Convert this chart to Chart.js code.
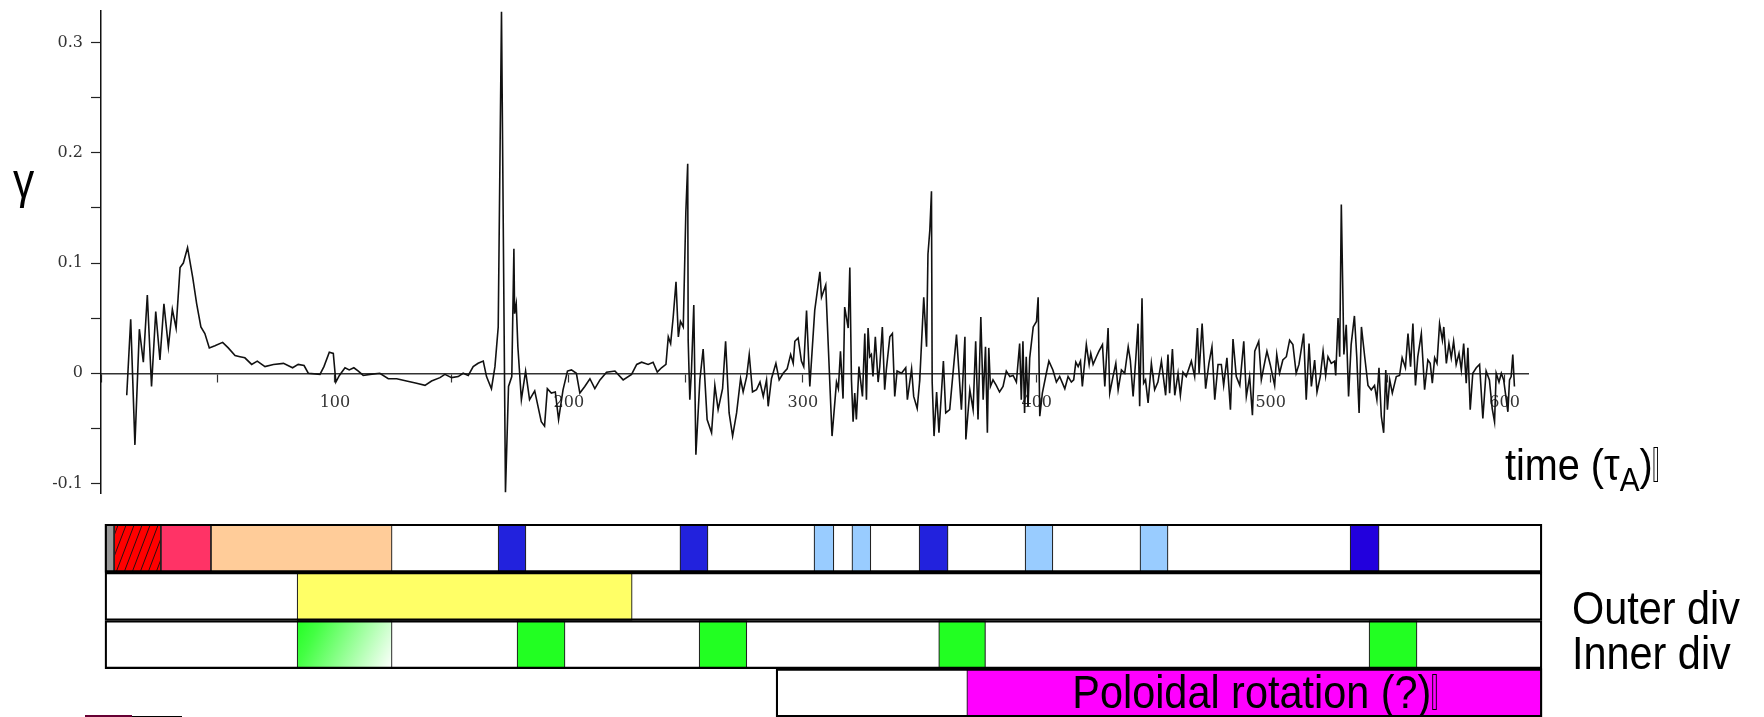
<!DOCTYPE html>
<html>
<head>
<meta charset="utf-8">
<script src="https://cdn.jsdelivr.net/npm/chart.js@4.4.0/dist/chart.umd.min.js"></script>
<style>
  html, body { margin: 0; padding: 0; background: #fff; }
  body { width: 1764px; height: 717px; position: relative; overflow: hidden; font-family: "Liberation Sans", Arial, sans-serif; }
  #grafica { position: absolute; left: 0; top: -7px; }
  #barras { position: absolute; left: 0; top: 520px; }
  .texto { position: absolute; color: #000; white-space: nowrap; line-height: 1; transform: scaleX(0.9); transform-origin: left top; }
  .caja { display: inline-block; width: 3px; height: 0.75em; border: 1px solid #000; vertical-align: -0.05em; margin-left: 1px; }
</style>
</head>
<body>
<canvas id="grafica" width="1764" height="518"></canvas>
<canvas id="barras" width="1764" height="197"></canvas>

<div class="texto" style="left:13px; top:156px; font-size:50px; transform:scaleX(0.85);">γ</div>
<div class="texto" style="left:1505px; top:443px; font-size:44px;">time (τ<sub style="font-size:33px; vertical-align:-11px;">A</sub>)<span class="caja"></span></div>
<div class="texto" style="left:1572px; top:585px; font-size:46px;">Outer div</div>
<div class="texto" style="left:1572px; top:630px; font-size:46px;">Inner div</div>
<div class="texto" style="left:967px; top:668px; width:575px; height:48px; line-height:48px; text-align:center; font-size:46px; transform-origin:center center;">Poloidal rotation (?)<span class="caja"></span></div>
<div style="position:absolute; left:85px; top:715px; width:47px; height:2px; background:#660033;"></div>
<div style="position:absolute; left:132px; top:716px; width:50px; height:1px; background:#000;"></div>

<script>
        var gammaTramo1 = [[11.0,-0.020],[12.7,0.049],[14.5,-0.065],[16.4,0.040],[18.1,0.010],[19.8,0.071],[21.6,-0.012],[23.4,0.056],[25.2,0.012],[26.9,0.063],[28.8,0.024],[30.5,0.058],[32.1,0.041],[33.8,0.096],[35.2,0.100],[37.0,0.114],[39.2,0.087],[40.9,0.063],[42.7,0.042],[44.4,0.036],[46.3,0.023],[48.7,0.025],[52.0,0.028],[54.4,0.023],[57.3,0.016],[59.4,0.015],[61.5,0.014],[64.4,0.008],[66.8,0.011],[70.1,0.006],[73.7,0.008],[78.0,0.009],[81.9,0.005],[84.3,0.008],[86.8,0.007],[88.6,0.000],[93.6,-0.001],[95.3,0.006],[97.6,0.019],[99.3,0.018],[100.4,-0.008],[101.9,-0.002]];
        var gammaTramo2 = [[104.3,0.005],[106.1,0.003],[108.1,0.005],[110.0,0.002],[112.1,-0.002],[115.0,-0.001],[119.2,0.000],[122.8,-0.005],[126.4,-0.005],[130.6,-0.007],[134.9,-0.009],[138.5,-0.011],[141.3,-0.007],[144.9,-0.004],[147.0,-0.001],[149.9,-0.004],[152.7,-0.003],[154.8,0.000],[157.0,-0.002],[159.1,0.006],[161.2,0.009],[163.4,0.011],[164.8,-0.003],[166.9,-0.014],[168.4,0.006],[169.8,0.042],[171.2,0.328],[172.9,-0.108],[174.2,-0.012],[175.6,-0.003],[176.5,0.113],[176.8,0.054],[177.5,0.063],[178.2,0.024],[179.7,-0.024],[181.5,0.002],[183.2,-0.024],[185.4,-0.016],[188.2,-0.044],[189.6,-0.048],[190.8,-0.014],[192.5,-0.018],[194.2,-0.017],[195.6,-0.042],[197.5,-0.015],[199.4,0.002],[201.1,0.003],[203.2,0.000]];
        var gammaTramo3 = [[204.7,-0.018],[206.8,-0.012],[209.0,-0.005],[211.1,-0.014],[213.3,-0.006],[216.1,0.001],[219.7,0.002],[223.2,-0.006],[226.8,-0.001],[229.0,0.008],[231.1,0.010],[233.9,0.008],[236.0,0.010],[237.8,0.001],[239.6,0.005],[241.5,0.008],[242.5,0.033],[243.5,0.027],[244.6,0.051],[245.8,0.083],[246.8,0.033],[247.7,0.047],[248.9,0.042],[250.0,0.146],[250.8,0.190],[251.0,0.030],[251.7,-0.024],[252.4,0.002],[253.4,0.062],[254.3,-0.074],[256.0,-0.006],[257.4,0.022],[259.1,-0.042],[261.0,-0.054],[262.4,-0.011],[263.8,-0.033],[265.7,-0.014],[267.0,0.029],[268.5,-0.036],[270.0,-0.057],[271.7,-0.036],[273.4,-0.005],[274.5,-0.017],[276.0,-0.003],[277.1,0.017],[278.5,-0.017],[280.2,-0.015],[281.7,-0.008],[283.1,-0.021],[284.5,-0.006],[285.2,-0.030],[286.6,-0.005],[288.5,0.009],[289.9,-0.006],[291.6,0.000],[293.3,0.004],[294.8,0.017],[295.9,0.009],[296.6,0.029],[298.0,0.032],[299.4,0.011],[300.4,0.006],[301.6,0.057],[303.0,-0.012],[305.1,0.057],[307.3,0.092]];
        var gammaTramo4 = [[308.0,0.069],[309.8,0.080],[312.5,-0.057],[314.4,-0.008],[315.2,-0.014],[316.1,0.020],[317.2,-0.023],[317.9,0.060],[319.4,0.041],[320.1,0.096],[320.8,-0.006],[321.5,-0.044],[322.2,-0.018],[322.9,-0.042],[324.0,0.006],[325.5,-0.021],[326.5,0.036],[327.2,-0.024],[327.9,0.041],[328.6,0.015],[329.3,0.017],[330.0,-0.003],[331.0,0.033],[332.2,-0.008],[332.9,0.006],[334.0,0.042],[335.0,-0.015],[335.7,0.003],[337.2,0.033],[338.3,0.036],[339.3,-0.021],[340.3,0.002],[342.2,0.000],[344.0,0.005],[344.7,-0.024],[346.5,0.004],[347.4,-0.021],[348.9,-0.032],[350.0,-0.006],[351.7,0.069],[352.9,0.024],[353.5,0.108],[354.3,0.130],[355.0,0.165],[355.3,-0.008],[356.1,-0.057],[357.2,-0.017],[358.2,-0.054],[360.1,0.011],[361.1,-0.036],[362.8,-0.033],[365.7,0.035],[367.8,-0.033],[369.3,0.033],[369.7,-0.060],[371.4,-0.015],[372.8,-0.033],[373.9,0.029],[374.9,-0.042],[376.1,0.051],[377.1,-0.024],[378.1,0.024],[378.9,-0.054],[379.5,0.023],[380.2,-0.012],[381.3,-0.006],[382.7,-0.011],[384.1,-0.017],[385.6,-0.012],[387.0,0.002],[388.5,-0.003],[389.9,-0.002],[391.3,-0.008],[392.7,0.027],[393.4,-0.024],[394.1,0.029],[394.8,-0.036],[395.5,0.015],[396.3,-0.030],[397.0,0.014],[398.5,0.042],[399.9,0.047],[400.6,0.069],[401.3,-0.039],[402.4,-0.018],[404.1,0.000],[405.2,0.011],[406.9,0.003],[408.4,-0.008]];
        var gammaTramo5 = [[409.8,-0.003],[412.0,-0.014],[413.4,-0.003],[414.8,-0.008],[415.8,-0.006],[416.7,0.010],[417.7,0.006],[418.7,0.011],[419.5,-0.012],[421.2,0.026],[422.4,0.008],[423.1,0.018],[424.1,0.008],[425.5,0.015],[426.6,0.020],[428.1,0.026],[429.1,-0.012],[430.5,0.041],[431.2,-0.018],[432.6,-0.003],[433.8,0.009],[434.8,-0.015],[436.2,0.003],[437.6,0.000],[439.1,0.024],[440.0,0.012],[441.2,-0.021],[442.3,0.012],[443.3,0.045],[444.0,-0.030],[445.0,0.068],[445.7,-0.009],[446.5,-0.006],[447.6,-0.027],[449.0,0.009],[450.4,-0.015],[451.8,-0.008],[453.3,0.011],[455.1,-0.020],[456.1,0.017],[456.8,-0.018],[458.0,0.022],[459.0,-0.020],[460.4,0.000],[461.4,-0.020],[462.5,0.001],[463.9,-0.003],[466.1,0.011],[467.5,-0.003],[468.7,0.041],[469.4,0.000],[470.7,0.045],[472.2,-0.014],[473.6,0.009],[474.9,0.024],[476.1,-0.024],[477.5,0.008],[478.9,0.008],[479.9,-0.011],[481.3,0.014],[482.8,-0.033],[483.9,0.031],[485.3,-0.003],[486.8,-0.011],[488.5,0.029],[489.6,-0.021],[491.0,-0.003],[492.2,-0.038],[493.2,0.020],[494.9,0.029],[496.0,-0.006],[497.0,0.005],[498.4,0.020],[499.8,0.008],[501.7,-0.011],[502.6,0.017],[503.8,0.000],[505.2,0.012],[506.7,0.015],[508.1,0.030],[509.5,0.026],[510.9,0.000],[512.1,0.008]];
        var gammaTramo6 = [[514.1,0.036],[515.2,-0.024],[516.4,0.027],[517.4,-0.012],[518.8,0.012],[519.8,-0.017],[521.2,-0.003],[522.4,0.020],[523.5,-0.002],[524.5,0.015],[525.9,0.009],[527.3,0.011],[527.8,-0.002],[528.8,0.050],[529.5,0.015],[530.2,0.153],[531.3,0.017],[532.3,0.044],[533.3,-0.021],[534.4,0.026],[535.8,0.052],[536.8,0.015],[537.8,-0.036],[538.8,0.042],[540.2,0.015],[541.6,-0.011],[543.0,-0.015],[544.4,-0.011],[545.4,-0.024],[546.3,0.005],[547.3,-0.039],[548.3,-0.054],[549.2,0.003],[549.9,-0.033],[550.9,-0.006],[552.0,-0.018],[553.7,-0.003],[555.1,-0.002],[556.2,0.014],[557.6,0.005],[558.7,0.036],[559.8,0.006],[560.8,0.045],[561.9,-0.011],[562.9,0.015],[564.4,0.036],[565.8,-0.015],[567.2,0.012],[568.2,0.009],[569.1,-0.009],[570.1,0.014],[571.1,0.009],[572.2,0.045],[573.4,0.030],[574.0,0.042],[575.1,0.009],[576.2,0.027],[577.2,0.014],[578.2,0.029],[579.3,0.008],[580.5,0.018],[581.5,0.003],[582.5,0.027],[583.6,-0.009],[584.3,0.023],[585.3,-0.033],[586.4,0.000],[587.9,0.005],[589.3,0.008],[590.7,-0.041],[592.1,0.002],[593.5,-0.006],[594.7,-0.032],[595.7,-0.044],[596.4,0.000],[597.6,-0.008],[598.6,0.000],[599.6,-0.006],[601.4,-0.035],[602.1,-0.006],[602.8,-0.003],[603.5,0.017],[604.2,-0.012]];

        // Etiquetas de los ejes
        var ticksX = [100, 200, 300, 400, 500, 600];
        var ticksY = [-0.1, 0, 0.1, 0.2, 0.3];

        // Bandas inferiores: filas y segmentos (en unidades de tiempo)
        var filas = ['fila1', 'fila2', 'fila3', 'fila4'];
        var filaInicio = [1.7, 1.7, 1.7, 288.5];
        var filaFin = [615.8, 615.8, 615.8, 615.8];

        var segFila   = ['fila1','fila1','fila1','fila1','fila1','fila1','fila1','fila1','fila1','fila1','fila1','fila1','fila2','fila3','fila3','fila3','fila3','fila3','fila4'];
        var segInicio = [1.7, 5.6, 25.6, 47.0, 169.7, 247.4, 304.7, 320.9, 349.6, 394.9, 444.0, 533.8, 83.8, 83.8, 177.8, 255.6, 358.0, 541.9, 370.0];
        var segFin    = [5.6, 25.6, 47.0, 124.4, 181.6, 259.4, 313.2, 329.0, 362.0, 406.8, 456.0, 546.2, 227.0, 124.4, 198.3, 276.0, 378.0, 562.4, 615.8];
        var segTipo   = ['gris','rayado','rosa','melocoton','azul','azul','celeste','celeste','azul','celeste','celeste','violeta','amarillo','degradado','verde','verde','verde','verde','magenta'];

        var colores = {
            gris: '#999999', rosa: '#ff3366', melocoton: '#ffcc99', azul: '#2222dd',
            violeta: '#2200dd', celeste: '#99ccff', amarillo: '#ffff66', verde: '#22ff22', magenta: '#ff00ff'
        };

        // Trama rayada roja
        var tile = document.createElement('canvas');
        tile.width = 8; tile.height = 21;
        var tctx = tile.getContext('2d');
        tctx.fillStyle = '#ff0000';
        tctx.fillRect(0, 0, 8, 21);
        tctx.strokeStyle = '#111';
        tctx.lineWidth = 0.9;
        [-8, 0, 8].forEach(function (d) {
            tctx.beginPath();
            tctx.moveTo(d, 21);
            tctx.lineTo(d + 8, 0);
            tctx.stroke();
        });
        var patronRayado = tctx.createPattern(tile, 'repeat');

        // Gráfico de gamma
        var puntos = [].concat(gammaTramo1, gammaTramo2, gammaTramo3, gammaTramo4, gammaTramo5, gammaTramo6)
            .map(function (p) { return {x: p[0], y: p[1]}; });

        var ctxGamma = document.getElementById('grafica').getContext('2d');
        var gammaChart = new Chart(ctxGamma, {
            type: 'line',
            data: {
                datasets: [{
                    data: puntos,
                    borderColor: '#111',
                    borderWidth: 1.6,
                    pointRadius: 0,
                    tension: 0,
                    fill: false
                }]
            },
            options: {
                responsive: false,
                animation: false,
                devicePixelRatio: 1,
                layout: { padding: { left: 0, top: 0, right: 236, bottom: 0 } },
                plugins: { legend: { display: false }, tooltip: { enabled: false } },
                scales: {
                    x: {
                        type: 'linear',
                        min: 0,
                        max: 610,
                        position: { y: 0 },
                        ticks: {
                            stepSize: 50,
                            includeBounds: false,
                            autoSkip: false,
                            maxRotation: 0,
                            padding: 12,
                            color: '#333',
                            font: { family: 'DejaVu Serif', size: 16 },
                            callback: function (v) { return ticksX.indexOf(v) >= 0 ? String(v) : ''; }
                        },
                        grid: { drawOnChartArea: false, tickLength: 8, tickColor: '#333', tickWidth: 1.2 },
                        border: { color: '#333', width: 1.5 }
                    },
                    y: {
                        type: 'linear',
                        min: -0.109,
                        max: 0.329,
                        afterFit: function (s) { s.width = 101; },
                        ticks: {
                            stepSize: 0.05,
                            includeBounds: false,
                            autoSkip: false,
                            padding: 8,
                            color: '#333',
                            font: { family: 'DejaVu Serif', size: 16 },
                            callback: function (v) {
                                for (var i = 0; i < ticksY.length; i++) {
                                    if (Math.abs(ticksY[i] - v) < 1e-6) return String(ticksY[i]);
                                }
                                return '';
                            }
                        },
                        grid: { drawOnChartArea: false, tickLength: 10, tickColor: '#222', tickWidth: 1.2 },
                        border: { color: '#111', width: 1.5 }
                    }
                }
            }
        });

        // Bandas de regímenes
        function colorSegmento(c) {
            var tipo = segTipo[c.dataIndex];
            if (tipo === 'rayado') return patronRayado;
            if (tipo === 'degradado') {
                var ch = c.chart;
                if (!ch.chartArea || !ch.scales.x || !ch.scales.y) return '#22ff22';
                var x0 = ch.scales.x.getPixelForValue(segInicio[c.dataIndex]);
                var x1 = ch.scales.x.getPixelForValue(segFin[c.dataIndex]);
                var yc = ch.scales.y.getPixelForValue(filas.indexOf(segFila[c.dataIndex]));
                var g = ch.ctx.createLinearGradient(x0, yc - 24, x1, yc + 24);
                g.addColorStop(0, '#22ff22');
                g.addColorStop(0.2, '#44ff44');
                g.addColorStop(1, '#ffffff');
                return g;
            }
            return colores[tipo];
        }

        var ctxBarras = document.getElementById('barras').getContext('2d');
        var barrasChart = new Chart(ctxBarras, {
            type: 'bar',
            data: {
                labels: filas,
                datasets: [{
                    data: filas.map(function (f, i) { return {x: [filaInicio[i], filaFin[i]], y: f}; }),
                    backgroundColor: 'rgba(0,0,0,0)',
                    borderColor: '#000',
                    borderWidth: 1.6,
                    borderSkipped: false,
                    grouped: false,
                    order: 0
                }, {
                    data: segFila.map(function (f, i) { return {x: [segInicio[i], segFin[i]], y: f}; }),
                    backgroundColor: colorSegmento,
                    borderColor: '#222',
                    borderWidth: 1.2,
                    borderSkipped: false,
                    grouped: false,
                    order: 1
                }]
            },
            options: {
                indexAxis: 'y',
                responsive: false,
                animation: false,
                devicePixelRatio: 1,
                barPercentage: 1,
                categoryPercentage: 1,
                layout: { padding: { left: 101, top: 4, right: 212.2, bottom: 0 } },
                plugins: { legend: { display: false }, tooltip: { enabled: false } },
                scales: {
                    x: { type: 'linear', min: 0, max: 620, display: false },
                    y: { type: 'category', display: false }
                }
            }
        });
</script>
</body>
</html>
